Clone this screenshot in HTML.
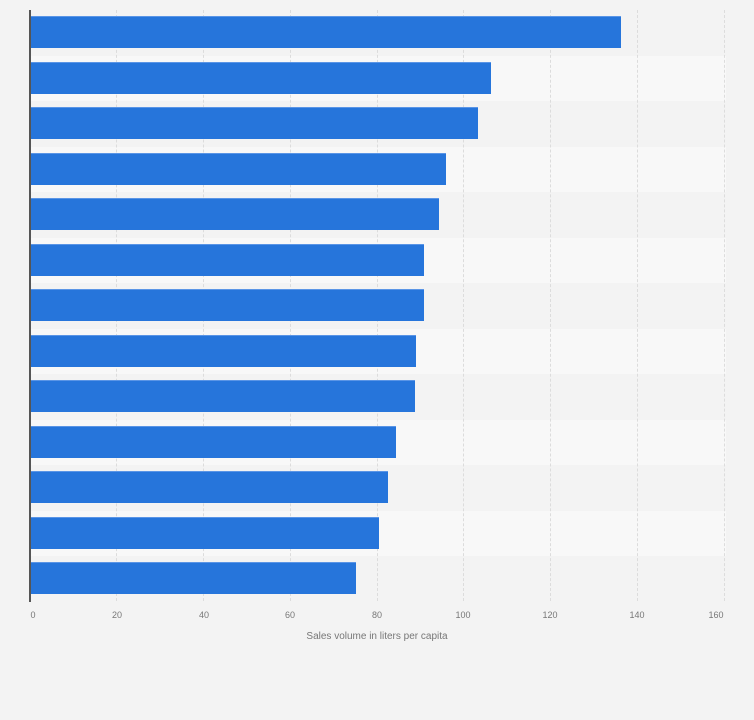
<!DOCTYPE html>
<html><head><style>
body{margin:0;width:754px;height:720px;background:#f3f3f3;font-family:"Liberation Sans",sans-serif;position:relative;overflow:hidden}
.band{position:absolute;left:30px;width:696px;height:45.5px}
.bar{position:absolute;left:31px;height:32px;background:#2675db;border-top:1px solid #5a95e6;box-sizing:border-box}
.grid{position:absolute;top:10px;height:591px;border-left:1px dashed #dcdcdc}
.tick{position:absolute;top:610px;font-size:9px;color:#777;width:40px;margin-left:-20px;text-align:center}
</style></head><body>
<div class="band" style="top:55.5px;background:#f8f8f8"></div>
<div class="band" style="top:146.5px;background:#f8f8f8"></div>
<div class="band" style="top:237.5px;background:#f8f8f8"></div>
<div class="band" style="top:328.5px;background:#f8f8f8"></div>
<div class="band" style="top:419.5px;background:#f8f8f8"></div>
<div class="band" style="top:510.5px;background:#f8f8f8"></div>
<div class="grid" style="left:116px"></div>
<div class="grid" style="left:203px"></div>
<div class="grid" style="left:290px"></div>
<div class="grid" style="left:377px"></div>
<div class="grid" style="left:463px"></div>
<div class="grid" style="left:550px"></div>
<div class="grid" style="left:637px"></div>
<div class="grid" style="left:724px"></div>
<div class="bar" style="top:16px;width:590px"></div>
<div class="bar" style="top:61.5px;width:460px"></div>
<div class="bar" style="top:107px;width:447px"></div>
<div class="bar" style="top:152.5px;width:415px"></div>
<div class="bar" style="top:198px;width:408px"></div>
<div class="bar" style="top:243.5px;width:393px"></div>
<div class="bar" style="top:289px;width:393px"></div>
<div class="bar" style="top:334.5px;width:385px"></div>
<div class="bar" style="top:380px;width:384px"></div>
<div class="bar" style="top:425.5px;width:365px"></div>
<div class="bar" style="top:471px;width:357px"></div>
<div class="bar" style="top:516.5px;width:348px"></div>
<div class="bar" style="top:562px;width:325px"></div>
<div style="position:absolute;left:29px;top:10px;width:2px;height:592px;background:#555"></div>
<div class="tick" style="left:33px">0</div>
<div class="tick" style="left:117px">20</div>
<div class="tick" style="left:204px">40</div>
<div class="tick" style="left:290px">60</div>
<div class="tick" style="left:377px">80</div>
<div class="tick" style="left:463px">100</div>
<div class="tick" style="left:550px">120</div>
<div class="tick" style="left:637px">140</div>
<div class="tick" style="left:716px">160</div>
<div style="position:absolute;left:227px;width:300px;top:631px;text-align:center;font-size:10px;color:#777">Sales volume in liters per capita</div>
</body></html>
